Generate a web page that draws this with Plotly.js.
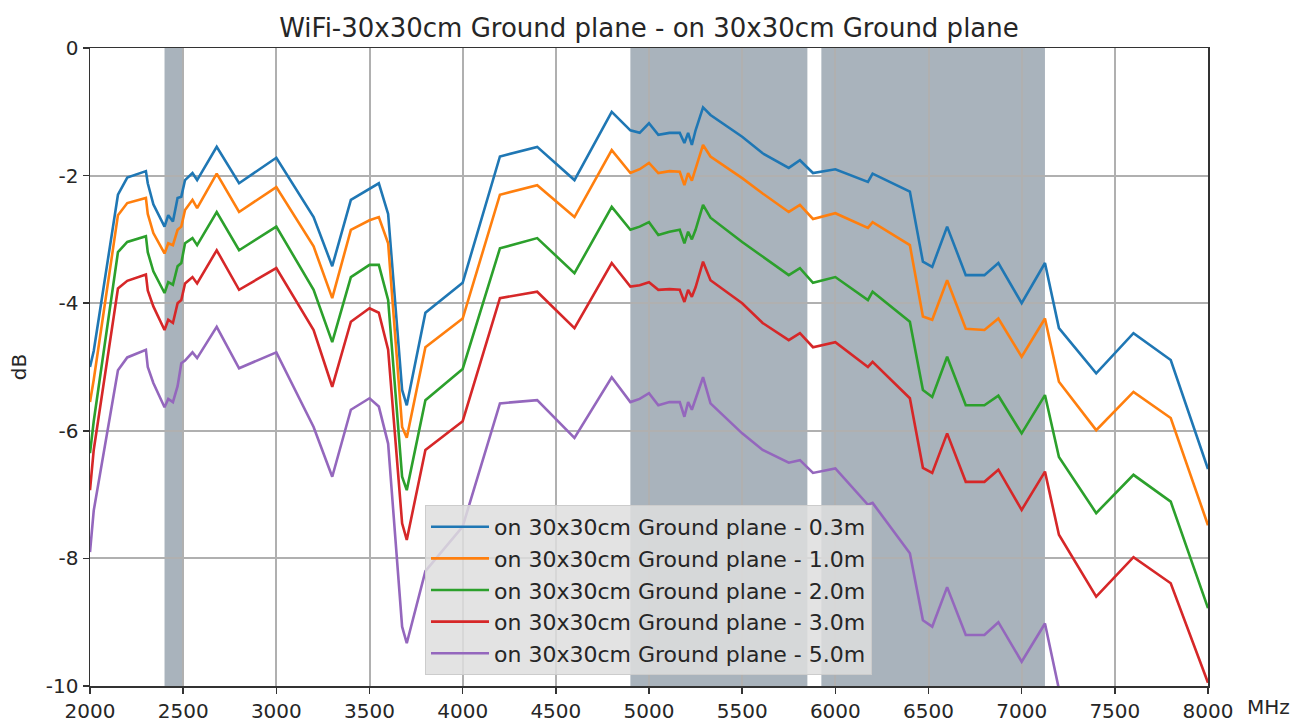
<!DOCTYPE html>
<html>
<head>
<meta charset="utf-8">
<script src="https://cdn.plot.ly/plotly-3.0.1.min.js"></script>
<style>
  html, body { margin: 0; padding: 0; background: #ffffff; }
  #chart { width: 1305px; height: 724px; }
</style>
</head>
<body>
<div id="chart"></div>
<script>
// Frequencies (MHz)
const freqMHz = [2000, 2020, 2150, 2200, 2300, 2310, 2340, 2400, 2420, 2445, 2470, 2490, 2510, 2550, 2575, 2680, 2800, 3000, 3200, 3300, 3400, 3500, 3550, 3600, 3675, 3700, 3800, 4000, 4200, 4400, 4600, 4800, 4900, 4950, 5000, 5050, 5110, 5165, 5190, 5210, 5230, 5250, 5290, 5330, 5500, 5610, 5750, 5810, 5880, 6000, 6175, 6200, 6400, 6470, 6520, 6600, 6700, 6800, 6875, 7000, 7125, 7200, 7400, 7600, 7800, 8000];

// Loss (dB) per distance
const gp03m = [-5.0, -4.75, -2.3, -2.03, -1.93, -2.12, -2.45, -2.8, -2.62, -2.72, -2.35, -2.33, -2.07, -1.96, -2.07, -1.55, -2.12, -1.72, -2.65, -3.42, -2.38, -2.2, -2.12, -2.6, -5.36, -5.6, -4.15, -3.68, -1.7, -1.55, -2.07, -1.0, -1.29, -1.33, -1.18, -1.36, -1.33, -1.33, -1.49, -1.33, -1.52, -1.29, -0.93, -1.05, -1.39, -1.65, -1.88, -1.76, -1.96, -1.9, -2.1, -1.97, -2.25, -3.35, -3.43, -2.8, -3.56, -3.56, -3.37, -4.0, -3.37, -4.39, -5.1, -4.47, -4.89, -6.6];
const gp10m = [-5.55, -5.2, -2.62, -2.43, -2.35, -2.6, -2.9, -3.22, -3.06, -3.09, -2.85, -2.8, -2.54, -2.38, -2.51, -1.97, -2.57, -2.18, -3.11, -3.92, -2.85, -2.7, -2.65, -3.06, -5.94, -6.11, -4.69, -4.24, -2.3, -2.15, -2.65, -1.6, -1.96, -1.9, -1.8, -1.96, -1.93, -1.94, -2.15, -1.96, -2.08, -1.9, -1.52, -1.7, -2.04, -2.28, -2.57, -2.46, -2.68, -2.59, -2.82, -2.73, -3.09, -4.21, -4.26, -3.64, -4.4, -4.42, -4.24, -4.84, -4.24, -5.23, -5.99, -5.39, -5.8, -7.48];
const gp20m = [-6.35, -5.85, -3.2, -3.04, -2.95, -3.2, -3.5, -3.84, -3.67, -3.71, -3.42, -3.37, -3.06, -2.98, -3.09, -2.57, -3.17, -2.8, -3.79, -4.61, -3.59, -3.4, -3.4, -3.95, -6.72, -6.93, -5.52, -5.03, -3.14, -2.98, -3.53, -2.49, -2.85, -2.8, -2.73, -2.93, -2.88, -2.85, -3.06, -2.88, -3.0, -2.85, -2.46, -2.66, -3.04, -3.27, -3.56, -3.45, -3.68, -3.59, -3.95, -3.82, -4.29, -5.36, -5.47, -4.84, -5.6, -5.6, -5.45, -6.04, -5.44, -6.41, -7.29, -6.69, -7.11, -8.78];
const gp30m = [-6.93, -6.3, -3.77, -3.65, -3.55, -3.8, -4.05, -4.42, -4.26, -4.31, -4.0, -3.95, -3.69, -3.59, -3.69, -3.17, -3.79, -3.45, -4.42, -5.31, -4.29, -4.08, -4.15, -4.73, -7.45, -7.71, -6.3, -5.85, -3.92, -3.82, -4.39, -3.37, -3.74, -3.72, -3.67, -3.79, -3.78, -3.79, -3.98, -3.79, -3.9, -3.75, -3.35, -3.64, -4.0, -4.31, -4.58, -4.47, -4.69, -4.61, -5.0, -4.92, -5.49, -6.58, -6.66, -6.04, -6.8, -6.8, -6.61, -7.24, -6.64, -7.63, -8.6, -7.98, -8.39, -9.95];
const gp50m = [-7.9, -7.25, -5.05, -4.85, -4.73, -5.0, -5.25, -5.63, -5.5, -5.55, -5.3, -4.94, -4.9, -4.77, -4.86, -4.37, -5.02, -4.77, -5.94, -6.72, -5.67, -5.49, -5.62, -6.2, -9.07, -9.33, -8.2, -7.5, -5.57, -5.52, -6.11, -5.16, -5.55, -5.5, -5.41, -5.6, -5.55, -5.55, -5.78, -5.55, -5.67, -5.5, -5.16, -5.57, -6.04, -6.3, -6.5, -6.46, -6.66, -6.59, -7.16, -7.13, -7.92, -8.97, -9.07, -8.45, -9.2, -9.2, -9.0, -9.62, -9.02, -10.05, -11.0, -10.4, -10.8, -12.4];

const seriesNames = [
  "on 30x30cm Ground plane - 0.3m",
  "on 30x30cm Ground plane - 1.0m",
  "on 30x30cm Ground plane - 2.0m",
  "on 30x30cm Ground plane - 3.0m",
  "on 30x30cm Ground plane - 5.0m"
];
const seriesValues = [gp03m, gp10m, gp20m, gp30m, gp50m];
const seriesColors = ["#1f77b4", "#ff7f0e", "#2ca02c", "#d62728", "#9467bd"];

// WiFi bands (MHz)
const bandStart = [2400, 4900, 5925];
const bandEnd   = [2500, 5850, 7125];

const xTickVals = [2000, 2500, 3000, 3500, 4000, 4500, 5000, 5500, 6000, 6500, 7000, 7500, 8000];
const yTickVals = [0, -2, -4, -6, -8, -10];

const FONT = "DejaVu Sans";
const TXT = "#262626";

const traces = seriesNames.map((name, i) => ({
  type: "scatter",
  mode: "lines",
  name: name,
  legendgroup: "g" + i,
  x: freqMHz,
  y: seriesValues[i],
  line: { color: seriesColors[i], width: 2.6 },
  hoverinfo: "skip"
}));

const shapes = bandStart.map((s, i) => ({
  type: "rect",
  xref: "x", yref: "paper",
  x0: s, x1: bandEnd[i], y0: 0, y1: 1,
  fillcolor: "rgb(112,128,144)",
  opacity: 0.6,
  line: { width: 0 },
  layer: "between"
}));

const layout = {
  width: 1305, height: 724,
  margin: { l: 90, r: 97, t: 48, b: 38 },
  paper_bgcolor: "#ffffff",
  plot_bgcolor: "#ffffff",
  font: { family: FONT, color: TXT, size: 20 },
  title: {
    text: "WiFi-30x30cm Ground plane - on 30x30cm Ground plane",
    font: { family: FONT, size: 26, color: TXT },
    x: 0.5, xref: "paper", xanchor: "center",
    y: 1 - 28 / 724, yref: "container", yanchor: "middle"
  },
  xaxis: {
    range: [2000, 8000],
    tickmode: "array", tickvals: xTickVals,
    ticktext: xTickVals.map(String),
    showgrid: true, gridcolor: "#b0b0b0", gridwidth: 2,
    zeroline: false,
    showline: true, linecolor: "#333333", linewidth: 1.5, mirror: true,
    ticks: "outside", ticklen: 6, tickwidth: 1.5, tickcolor: "#333333",
    tickfont: { family: FONT, size: 20, color: TXT }
  },
  yaxis: {
    range: [-10, 0],
    tickmode: "array", tickvals: yTickVals,
    ticktext: yTickVals.map(String),
    showgrid: true, gridcolor: "#b0b0b0", gridwidth: 2,
    zeroline: false,
    showline: true, linecolor: "#333333", linewidth: 1.5, mirror: true,
    ticks: "outside", ticklen: 6, tickwidth: 1.5, tickcolor: "#333333",
    tickfont: { family: FONT, size: 20, color: TXT },
    title: { text: "dB", font: { family: FONT, size: 20, color: TXT }, standoff: 14 }
  },
  showlegend: true,
  legend: {
    x: (425 - 90) / 1118, y: (686 - 675) / 638,
    xanchor: "left", yanchor: "bottom",
    bgcolor: "rgba(222,222,222,0.85)",
    bordercolor: "#cccccc", borderwidth: 1,
    font: { family: FONT, size: 22, color: TXT },
    itemwidth: 58,
    tracegroupgap: 2,
    traceorder: "normal"
  },
  annotations: [{
    text: "MHz", xref: "paper", yref: "paper",
    x: (1268 - 90) / 1118, y: (686 - 707) / 638,
    xanchor: "center", yanchor: "middle", showarrow: false,
    font: { family: FONT, size: 20, color: TXT }
  }],
  shapes: shapes
};

Plotly.newPlot("chart", traces, layout, { displayModeBar: false, staticPlot: true });
</script>
</body>
</html>
